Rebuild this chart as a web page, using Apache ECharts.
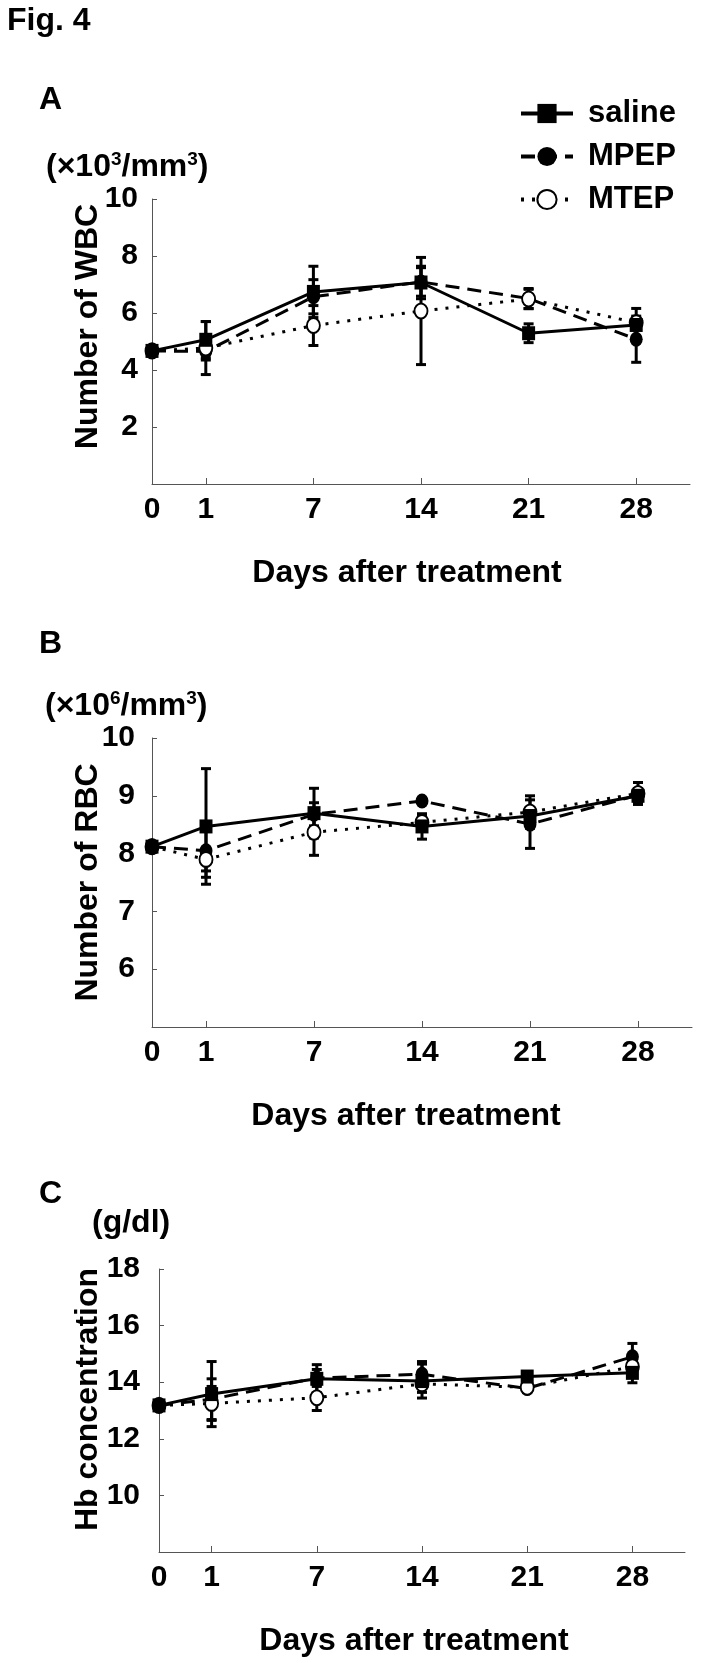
<!DOCTYPE html>
<html>
<head>
<meta charset="utf-8">
<script src="https://cdn.jsdelivr.net/npm/echarts@6/dist/echarts.min.js"></script>
<style>
html,body{margin:0;padding:0;background:#fff;}
#chart{width:707px;height:1663px;}
</style>
</head>
<body>
<div id="chart"></div>
<script>
// ---- categories / tick labels ----
const days = ['0', '1', '7', '14', '21', '28'];
// x slots: gap placeholders keep the uneven spacing of the original axis
const xSlots = ['0', '1', 'gap1', '7', 'gap2', '14', 'gap3', '21', 'gap4', '28', 'gap5'];
const seriesNames = ['saline', 'MPEP', 'MTEP'];

// ---- Panel A: WBC (x10^3/mm^3) ----
const wbcSaline = [4.67, 5.06, 6.74, 7.07, 5.29, 5.58];
const wbcSalineErr = [0, 0.64, 0.90, 0.57, 0.33, 0.15];
const wbcMPEP = [4.67, 4.65, 6.57, 7.09, 6.51, 5.08];
const wbcMPEPErr = [0, 0.30, 0.60, 0.50, 0.35, 0.81];
const wbcMTEP = [4.67, 4.77, 5.56, 6.07, 6.49, 5.66];
const wbcMTEPErr = [0, 0.93, 0.70, 1.88, 0.34, 0.50];

// ---- Panel B: RBC (x10^6/mm^3) ----
const rbcSaline = [8.12, 8.47, 8.70, 8.47, 8.65, 9.00];
const rbcSalineErr = [0, 1.00, 0.43, 0.22, 0.10, 0.12];
const rbcMPEP = [8.12, 8.05, 8.68, 8.91, 8.51, 9.01];
const rbcMPEPErr = [0, 0.46, 0.20, 0.04, 0.42, 0.10];
const rbcMTEP = [8.12, 7.90, 8.37, 8.54, 8.72, 9.04];
const rbcMTEPErr = [0, 0.20, 0.40, 0.12, 0.28, 0.19];

// ---- Panel C: Hb (g/dl) ----
const hbSaline = [13.18, 13.58, 14.12, 14.04, 14.20, 14.33];
const hbSalineErr = [0, 1.15, 0.50, 0.60, 0.12, 0.35];
const hbMPEP = [13.18, 13.40, 14.15, 14.28, 13.78, 14.90];
const hbMPEPErr = [0, 0.72, 0.30, 0.45, 0.15, 0.47];
const hbMTEP = [13.18, 13.25, 13.45, 13.94, 13.82, 14.55];
const hbMTEPErr = [0, 0.60, 0.45, 0.30, 0.15, 0.30];

// ---- styling ----
const FONT = '"Liberation Sans", Arial, Helvetica, sans-serif';
const AXIS_COLOR = '#555';
const look = {
  saline: { symbol: 'rect', symbolSize: [13, 14], color: '#000', lineType: 'solid', width: 3 },
  MPEP: { symbol: 'circle', symbolSize: [13, 15], color: '#000', lineType: [14, 8], width: 3 },
  MTEP: { symbol: 'circle', symbolSize: [13, 15], color: '#fff', lineType: [3, 8], width: 3 }
};

const panels = [
  { vals: [wbcSaline, wbcMPEP, wbcMTEP], errs: [wbcSalineErr, wbcMPEPErr, wbcMTEPErr],
    grid: { left: 152, top: 199, width: 538, height: 285 },
    y: { min: 0, max: 10, interval: 2 }, yName: 'Number of WBC',
    yNamePad: [0, 0, 0, 30], yNameGap: 48, yLabelPad: [18, 0, 0, 0], yLabelMargin: 14,
    xNamePad: [0, 28, 0, 0] },
  { vals: [rbcSaline, rbcMPEP, rbcMTEP], errs: [rbcSalineErr, rbcMPEPErr, rbcMTEPErr],
    grid: { left: 152, top: 738, width: 540, height: 289 },
    y: { min: 5, max: 10, interval: 1 }, yName: 'Number of RBC',
    yNamePad: [0, 0, 0, 0], yNameGap: 48, yLabelPad: [0, 0, 0, 0], yLabelMargin: 17,
    xNamePad: [0, 32, 0, 0] },
  { vals: [hbSaline, hbMPEP, hbMTEP], errs: [hbSalineErr, hbMPEPErr, hbMTEPErr],
    grid: { left: 159, top: 1269, width: 526, height: 283 },
    y: { min: 8, max: 18, interval: 2 }, yName: 'Hb concentration',
    yNamePad: [0, 0, 0, 22], yNameGap: 55, yLabelPad: [6, 0, 0, 0], yLabelMargin: 19,
    xNamePad: [0, 16, 0, 0] }
];

function errRender(params, api) {
  const x = api.value(0), v = api.value(1), e = api.value(2);
  if (!e) return null;
  const t = api.coord([x, v + e]);
  const b = api.coord([x, v - e]);
  const w = 5;
  const st = { stroke: '#000', lineWidth: 3 };
  return {
    type: 'group',
    children: [
      { type: 'line', shape: { x1: t[0], y1: t[1], x2: b[0], y2: b[1] }, style: st },
      { type: 'line', shape: { x1: t[0] - w, y1: t[1], x2: t[0] + w, y2: t[1] }, style: st },
      { type: 'line', shape: { x1: b[0] - w, y1: b[1], x2: b[0] + w, y2: b[1] }, style: st }
    ]
  };
}

const grids = [], xAxes = [], yAxes = [], series = [];
panels.forEach((p, pi) => {
  grids.push(p.grid);
  xAxes.push({
    type: 'category', gridIndex: pi, data: xSlots, boundaryGap: false,
    name: 'Days after treatment', nameLocation: 'middle', nameGap: 73, nameMoveOverlap: false,
    nameTextStyle: { fontFamily: FONT, fontWeight: 'bold', fontSize: 32, color: '#000', padding: p.xNamePad },
    axisLine: { lineStyle: { color: AXIS_COLOR, width: 1 } },
    axisTick: { inside: true, length: 6, lineStyle: { color: AXIS_COLOR }, alignWithLabel: true,
      interval: (i, v) => days.includes(v) && v !== '0' },
    axisLabel: { interval: 0, margin: 11, fontFamily: FONT, fontWeight: 'bold', fontSize: 30, color: '#000',
      formatter: v => (days.includes(v) ? v : '') },
    splitLine: { show: false }
  });
  yAxes.push({
    type: 'value', gridIndex: pi, min: p.y.min, max: p.y.max, interval: p.y.interval,
    name: p.yName, nameLocation: 'middle', nameRotate: 90, nameGap: p.yNameGap, nameMoveOverlap: false,
    nameTextStyle: { fontFamily: FONT, fontWeight: 'bold', fontSize: 32, color: '#000', padding: p.yNamePad },
    axisLine: { show: true, lineStyle: { color: AXIS_COLOR, width: 1 } },
    axisTick: { show: true, inside: true, length: 5, lineStyle: { color: AXIS_COLOR } },
    axisLabel: { showMinLabel: false, margin: p.yLabelMargin, fontFamily: FONT, fontWeight: 'bold', fontSize: 30,
      color: '#000', padding: p.yLabelPad },
    splitLine: { show: false }
  });
  // error bars (drawn beneath the markers)
  seriesNames.forEach((nm, si) => {
    series.push({
      type: 'custom', name: nm + ' SE', xAxisIndex: pi, yAxisIndex: pi, z: 1,
      renderItem: errRender, encode: { x: 0, y: 1 },
      data: days.map((d, i) => [d, p.vals[si][i], p.errs[si][i]]),
      silent: true
    });
  });
});
// lines (saline on top)
const drawOrder = ['MPEP', 'MTEP', 'saline'];
panels.forEach((p, pi) => {
  drawOrder.forEach((nm, k) => {
    const si = seriesNames.indexOf(nm);
    const L = look[nm];
    series.push({
      type: 'line', name: nm, xAxisIndex: pi, yAxisIndex: pi, z: 3 + k,
      data: days.map((d, i) => [d, p.vals[si][i]]),
      symbol: L.symbol, symbolSize: L.symbolSize, showAllSymbol: true,
      itemStyle: { color: L.color, borderColor: '#000', borderWidth: nm === 'MTEP' ? 2 : 0 },
      lineStyle: { color: '#000', width: L.width, type: L.lineType },
      emphasis: { disabled: true }, animation: false
    });
  });
});

const titleText = (text, left, top, size) => ({
  text, left, top, padding: 0,
  textStyle: { fontFamily: FONT, fontWeight: 'bold', fontSize: size, color: '#000' }
});
const unitRich = {
  n: { fontFamily: FONT, fontWeight: 'bold', fontSize: 32, color: '#000', lineHeight: 34 },
  s: { fontFamily: FONT, fontWeight: 'bold', fontSize: 19, color: '#000', verticalAlign: 'top', lineHeight: 34, padding: [0, 0, 14, 0] }
};
const unitTitle = (text, left, top) => ({
  text, left, top, padding: 0,
  textStyle: { rich: unitRich }
});

const option = {
  backgroundColor: '#fff',
  animation: false,
  title: [
    titleText('Fig. 4', 7, 5, 32),
    titleText('A', 39, 84, 32),
    titleText('B', 39, 628, 32),
    titleText('C', 39, 1178, 32),
    unitTitle('{n|(×10}{s|3}{n|/mm}{s|3}{n|)}', 46, 150),
    unitTitle('{n|(×10}{s|6}{n|/mm}{s|3}{n|)}', 45, 689),
    unitTitle('{n|(g/dl)}', 92, 1206)
  ],
  legend: {
    data: seriesNames, orient: 'vertical', left: 514, top: 93,
    itemWidth: 52, itemHeight: 24, itemGap: 12,
    lineStyle: { width: 4 },
    textStyle: { fontFamily: FONT, fontWeight: 'bold', fontSize: 31, color: '#000', padding: [0, 0, 0, 10] },
    selectedMode: false
  },
  grid: grids,
  xAxis: xAxes,
  yAxis: yAxes,
  series
};

const chart = echarts.init(document.getElementById('chart'), null, { renderer: 'canvas' });
chart.setOption(option);
</script>
</body>
</html>
